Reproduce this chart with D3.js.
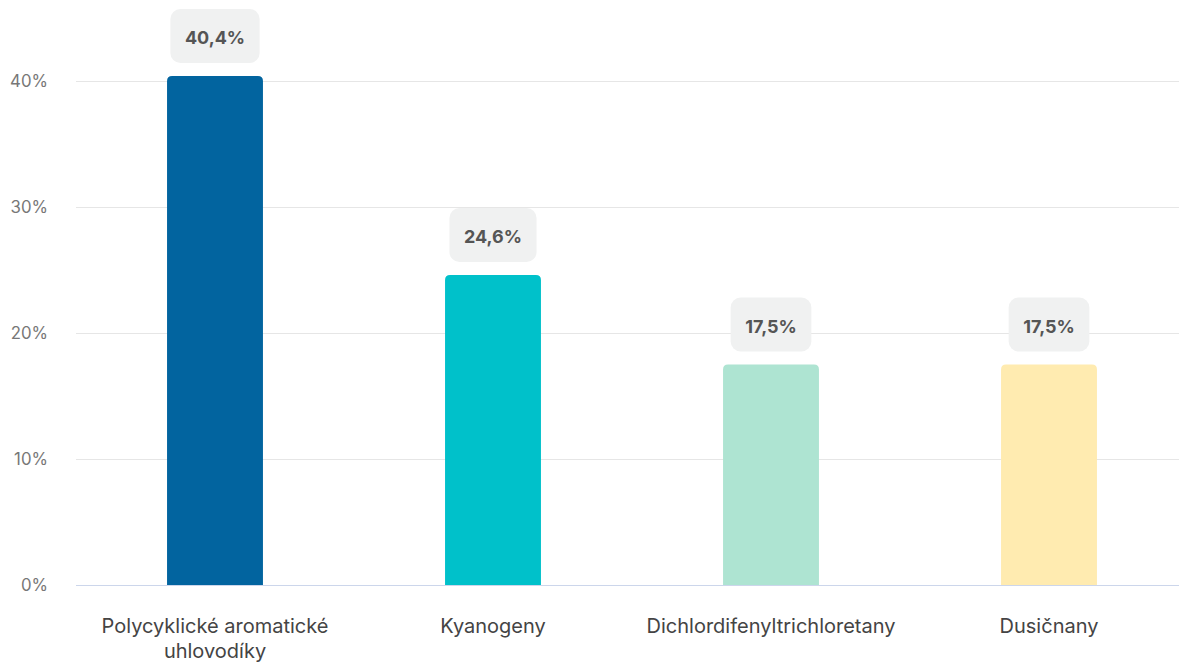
<!DOCTYPE html>
<html><head><meta charset="utf-8">
<script src="https://cdn.jsdelivr.net/npm/d3@7"></script>
<style>body{margin:0;background:#fff;overflow:hidden}svg{display:block;font-family:Inter,"Noto Sans",sans-serif}</style>
</head><body><svg id="c" width="1179" height="662"></svg>
<script>
const categories = [["Polycyklické aromatické","uhlovodíky"],["Kyanogeny"],["Dichlordifenyltrichloretany"],["Dusičnany"]];
const values = [40.4, 24.6, 17.5, 17.5];
const valueLabels = ["40,4%","24,6%","17,5%","17,5%"];
const colors = ["#02649f","#00c1ca","#aee4d2","#ffebb0"];
const yTicks = [0,10,20,30,40];

const svg = d3.select("#c");
const x = d3.scaleBand().domain(d3.range(categories.length)).range([76,1188]).paddingInner(0.655).paddingOuter(0.3275);
const y = d3.scaleLinear().domain([0,40]).range([585,81]);

// grid
svg.append("g").selectAll("line").data(yTicks.filter(d=>d>0)).join("line")
  .attr("x1",76).attr("x2",1179).attr("y1",d=>y(d)+0.5).attr("y2",d=>y(d)+0.5)
  .attr("stroke","#e6e6e6").attr("stroke-width",1);
svg.append("line").attr("x1",76).attr("x2",1179).attr("y1",y(0)+0.5).attr("y2",y(0)+0.5)
  .attr("stroke","#ccd6eb").attr("stroke-width",1);

// y axis labels
svg.append("g").selectAll("text").data(yTicks).join("text")
  .attr("x",48).attr("y",d=>y(d)+6).attr("text-anchor","end")
  .attr("font-size",16.8).attr("fill","#777").text(d=>d+"%");

// bars with rounded top
const r = 5;
svg.append("g").selectAll("path").data(values).join("path")
  .attr("fill",(d,i)=>colors[i])
  .attr("d",(d,i)=>{
    const x0=x(i), w=x.bandwidth(), y0=y(d), yb=y(0);
    return `M${x0},${yb}V${y0+r}Q${x0},${y0} ${x0+r},${y0}H${x0+w-r}Q${x0+w},${y0} ${x0+w},${y0+r}V${yb}Z`;
  });

// data labels
const lg = svg.append("g").selectAll("g").data(values).join("g")
  .attr("transform",(d,i)=>`translate(${x(i)+x.bandwidth()/2},${y(d)-13})`);
lg.each(function(d,i){
  const g=d3.select(this);
  const t=g.append("text").attr("text-anchor","middle").attr("y",-19).attr("font-size",18)
    .attr("font-weight",700).attr("fill","#555").text(valueLabels[i]);
  const w=t.node().getComputedTextLength()+29;
  g.insert("rect","text").attr("x",-w/2).attr("y",-54).attr("width",w).attr("height",54)
    .attr("rx",10).attr("fill","#f0f1f1");
});

// x labels
const xl = svg.append("g").selectAll("text").data(categories).join("text")
  .attr("x",(d,i)=>x(i)+x.bandwidth()/2).attr("y",633).attr("text-anchor","middle")
  .attr("font-size",20).attr("fill","#444");
xl.each(function(d){
  const t=d3.select(this);
  d.forEach((line,k)=>t.append("tspan").attr("x",t.attr("x")).attr("dy",k?25:0).text(line));
});
</script></body></html>
